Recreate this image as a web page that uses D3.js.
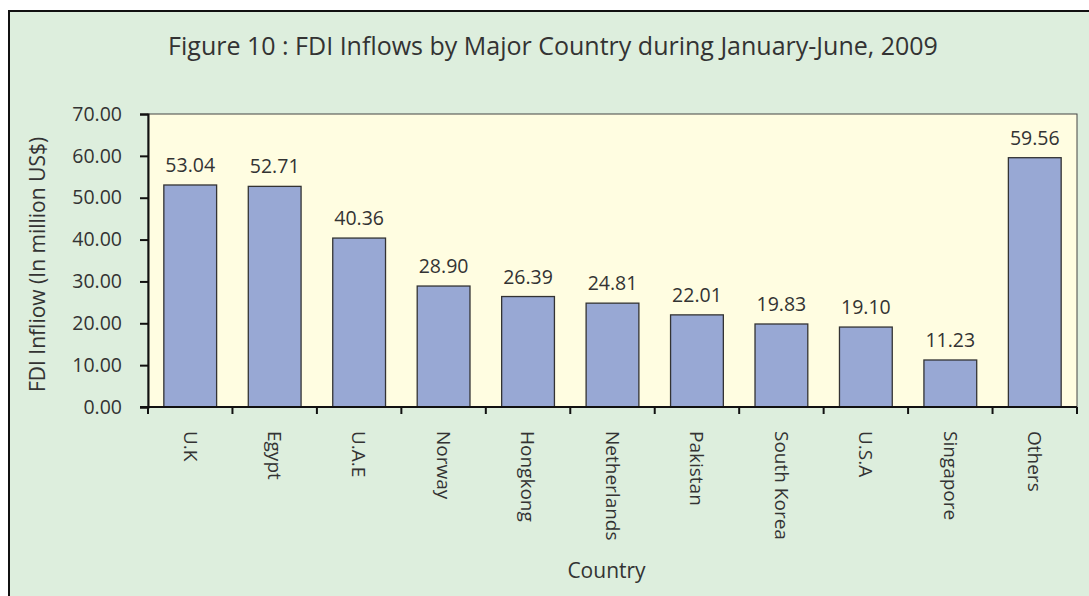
<!DOCTYPE html>
<html>
<head>
<meta charset="utf-8">
<title>FDI Inflows by Major Country</title>
<script src="https://cdn.jsdelivr.net/npm/d3@7"></script>
<style>
  body { margin: 0; background: #fff; }
  text { font-family: "Open Sans", sans-serif; fill: #333; }
</style>
</head>
<body>
<script>
var countries = ["U.K", "Egypt", "U.A.E", "Norway", "Hongkong", "Netherlands",
                 "Pakistan", "South Korea", "U.S.A", "Singapore", "Others"];
var inflows = [53.04, 52.71, 40.36, 28.90, 26.39, 24.81, 22.01, 19.83, 19.10, 11.23, 59.56];
var yTicks = [0, 10, 20, 30, 40, 50, 60, 70];

var width = 1089, height = 596;
var pLeft = 148, pRight = 1077, pTop = 114, pBottom = 407;

var svg = d3.select("body").append("svg")
    .attr("width", width)
    .attr("height", height);

// outer frame
svg.append("rect")
    .attr("x", 9).attr("y", 11)
    .attr("width", width + 20).attr("height", height + 20)
    .attr("fill", "#ddeedd")
    .attr("stroke", "#111")
    .attr("stroke-width", 2);

svg.append("text")
    .attr("x", 553).attr("y", 55)
    .attr("text-anchor", "middle")
    .style("font-size", "25px")
    .text("Figure 10 : FDI Inflows by Major Country during January-June, 2009");

var x = d3.scaleBand()
    .domain(countries)
    .range([pLeft, pRight])
    .paddingInner(0.375)
    .paddingOuter(0.1875);

var y = d3.scaleLinear()
    .domain([0, 70])
    .range([pBottom, pTop]);

// plot area
svg.append("rect")
    .attr("x", pLeft).attr("y", pTop)
    .attr("width", pRight - pLeft).attr("height", pBottom - pTop)
    .attr("fill", "#fffde1")
    .attr("stroke", "#444")
    .attr("stroke-width", 1);

svg.selectAll(".bar")
    .data(countries)
    .enter()
    .append("rect")
    .attr("class", "bar")
    .attr("x", function(d) { return x(d); })
    .attr("y", function(d, i) { return y(inflows[i]); })
    .attr("width", x.bandwidth())
    .attr("height", function(d, i) { return y(0) - y(inflows[i]); })
    .attr("fill", "#98a8d4")
    .attr("stroke", "#333")
    .attr("stroke-width", 1.3);

svg.selectAll(".val")
    .data(countries)
    .enter()
    .append("text")
    .attr("class", "val")
    .attr("x", function(d) { return x(d) + x.bandwidth() / 2; })
    .attr("y", function(d, i) { return y(inflows[i]) - 13; })
    .attr("text-anchor", "middle")
    .style("font-size", "19.5px")
    .text(function(d, i) { return inflows[i].toFixed(2); });

// y axis
var yAxis = svg.append("g")
    .attr("transform", "translate(" + pLeft + ",0)")
    .call(d3.axisLeft(y).tickValues(yTicks).tickSize(8).tickPadding(18)
        .tickFormat(function(d) { return d.toFixed(2); }));
yAxis.select(".domain").attr("stroke", "#111").attr("stroke-width", 2);
yAxis.selectAll(".tick line").attr("stroke", "#111").attr("stroke-width", 2);
yAxis.selectAll(".tick text")
    .style("font-size", "19.5px")
    .style("font-family", "'Open Sans', sans-serif")
    .attr("fill", "#333");

// x axis with ticks on band boundaries
var xAxis = svg.append("g")
    .attr("transform", "translate(0," + pBottom + ")");
xAxis.append("line")
    .attr("x1", pLeft - 8).attr("x2", pRight)
    .attr("stroke", "#111").attr("stroke-width", 2);
var bounds = countries.map(function(d) { return x(d) - x.step() * x.paddingInner() / 2; });
bounds.push(pRight);
xAxis.selectAll(".xt")
    .data(bounds)
    .enter()
    .append("line")
    .attr("x1", function(d) { return d; })
    .attr("x2", function(d) { return d; })
    .attr("y1", 0).attr("y2", 7)
    .attr("stroke", "#111").attr("stroke-width", 2);

svg.selectAll(".cat")
    .data(countries)
    .enter()
    .append("text")
    .attr("class", "cat")
    .attr("transform", function(d) {
        return "translate(" + (x(d) + x.bandwidth() / 2) + ",431) rotate(90)";
    })
    .attr("dy", "0.35em")
    .style("font-size", "19px")
    .text(function(d) { return d; });

svg.append("text")
    .attr("x", (pLeft + pRight) / 2 - 6).attr("y", 578)
    .attr("text-anchor", "middle")
    .style("font-size", "21px")
    .text("Country");

svg.append("text")
    .attr("transform", "translate(45," + ((pTop + pBottom) / 2 + 4) + ") rotate(-90)")
    .attr("text-anchor", "middle")
    .style("font-size", "21px")
    .text("FDI Infliow (In million US$)");
</script>
</body>
</html>
